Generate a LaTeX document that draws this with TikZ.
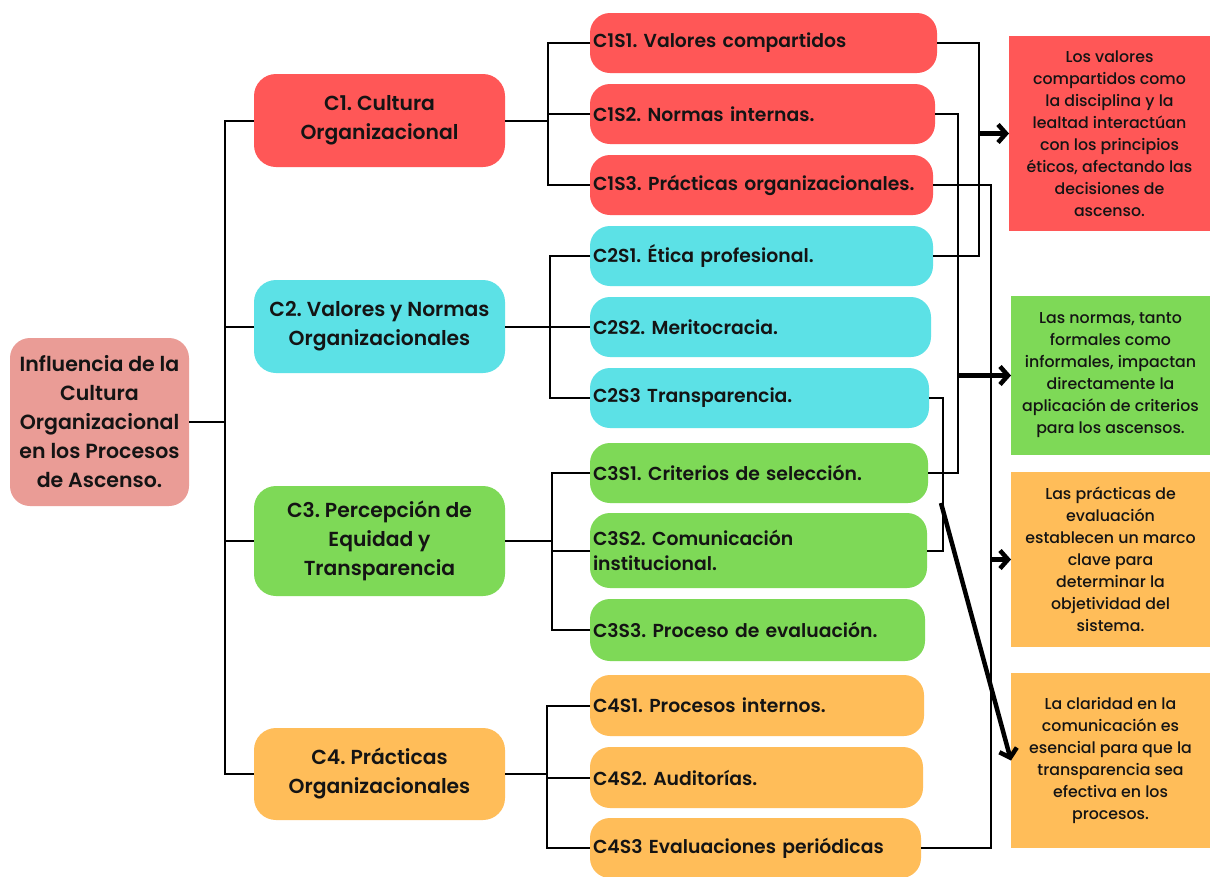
\documentclass[tikz,border=0pt]{standalone}
\usepackage{fontspec}
\setmainfont{Poppins}[UprightFont={* Medium},BoldFont={* SemiBold}]
\newfontfamily\regfont{Poppins}[UprightFont={* Medium}]
\usetikzlibrary{arrows.meta,calc}
\definecolor{cred}{HTML}{FF5757}
\definecolor{ccyan}{HTML}{5CE1E6}
\definecolor{cgreen}{HTML}{7ED957}
\definecolor{corange}{HTML}{FFBD59}
\definecolor{cpink}{HTML}{EA9C96}
\definecolor{txt}{HTML}{141414}
\frenchspacing
\begin{document}
\begin{tikzpicture}[x=1pt,y=-1pt,
  conn/.style={line width=2pt, draw=black},
  bigarrow/.style={line width=4.5pt, draw=black, -{Straight Barb[length=8pt,width=18pt]}},
  rootbox/.style={rounded corners=20pt, inner sep=0pt, outer sep=0pt, align=center, anchor=north west, text=txt,
    font=\fontsize{20.5}{29}\selectfont\bfseries},
  catbox/.style={rounded corners=22pt, inner sep=0pt, outer sep=0pt, align=center, anchor=north west, text=txt,
    minimum width=251pt, font=\fontsize{20.3}{29}\selectfont\bfseries},
  subbox/.style={rounded corners=20pt, inner xsep=3pt, inner ysep=0pt, outer sep=0pt, align=left, anchor=north west, text=txt,
    font=\fontsize{18.8}{25}\selectfont\bfseries},
  notebox/.style={inner sep=0pt, outer sep=0pt, align=center, anchor=north west, text=txt, minimum width=200pt,
    font=\regfont\fontsize{15.8}{22}\selectfont},
]
\useasboundingbox (0,0) rectangle (1210,876);
\fill[white] (0,0) rectangle (1210,876);

% root
\node[rootbox, fill=cpink, minimum width=179pt, minimum height=168pt] (root) at (10,338)
  {Influencia de la\\Cultura\\Organizacional\\en los Procesos\\de Ascenso.};

% categories
\node[catbox, fill=cred, minimum height=93pt] (c1) at (254,74) {C1. Cultura\\Organizacional};
\node[catbox, fill=ccyan, minimum height=93pt] (c2) at (254,280) {C2. Valores y Normas\\Organizacionales};
\node[catbox, fill=cgreen, minimum height=110pt] (c3) at (254,486) {C3. Percepción de\\Equidad y\\Transparencia};
\node[catbox, fill=corange, minimum height=92pt] (c4) at (254,728) {C4. Prácticas\\Organizacionales};

% sub nodes
\node[subbox, fill=cred, text width=341pt, minimum height=60pt] (c1s1) at (590,13) {C1S1. Valores compartidos};
\node[subbox, fill=cred, text width=339pt, minimum height=60pt] (c1s2) at (590,84) {C1S2. Normas internas.};
\node[subbox, fill=cred, text width=337pt, minimum height=60pt] (c1s3) at (590,155) {C1S3. Prácticas organizacionales.};
\node[subbox, fill=ccyan, text width=337pt, minimum height=60pt] (c2s1) at (590,226) {C2S1. Ética profesional.};
\node[subbox, fill=ccyan, text width=335pt, minimum height=60pt] (c2s2) at (590,297) {C2S2. Meritocracia.};
\node[subbox, fill=ccyan, text width=333pt, minimum height=60pt] (c2s3) at (590,368) {C2S3 Transparencia.};
\node[subbox, fill=cgreen, text width=332pt, minimum height=60pt] (c3s1) at (590,443) {C3S1. Criterios de selección.};
\node[subbox, fill=cgreen, text width=331pt, minimum height=75pt] (c3s2) at (590,513) {C3S2. Comunicación\\institucional.};
\node[subbox, fill=cgreen, text width=329pt, minimum height=62pt] (c3s3) at (590,599) {C3S3. Proceso de evaluación.};
\node[subbox, fill=corange, text width=328pt, minimum height=61pt] (c4s1) at (590,675) {C4S1. Procesos internos.};
\node[subbox, fill=corange, text width=327pt, minimum height=61pt] (c4s2) at (590,747) {C4S2. Auditorías.};
\node[subbox, fill=corange, text width=325pt, minimum height=60pt] (c4s3) at (590,818) {C4S3 Evaluaciones periódicas};

% note boxes
\node[notebox, fill=cred, minimum width=201pt, minimum height=195pt] (b1) at (1009,36)
  {Los valores\\compartidos como\\la disciplina y la\\lealtad interactúan\\con los principios\\éticos, afectando las\\decisiones de\\ascenso.};
\node[notebox, fill=cgreen, minimum width=199pt, minimum height=159pt] (b2) at (1011,296)
  {Las normas, tanto\\formales como\\informales, impactan\\directamente la\\aplicación de criterios\\para los ascensos.};
\node[notebox, fill=corange, minimum width=199pt, minimum height=175pt] (b3) at (1011,472)
  {Las prácticas de\\evaluación\\establecen un marco\\clave para\\determinar la\\objetividad del\\sistema.};
\node[notebox, fill=corange, minimum width=199pt, minimum height=175pt] (b4) at (1011,673)
  {La claridad en la\\comunicación es\\esencial para que la\\transparencia sea\\efectiva en los\\procesos.};

% trunk
\coordinate (tk) at (225,0);
\draw[conn] (root.east) -- (root.east -| tk);
\draw[conn] (c1.west) -- (c1.west -| tk) -- (c4.west -| tk) -- (c4.west);
\draw[conn] (c2.west) -- (c2.west -| tk);
\draw[conn] (c3.west) -- (c3.west -| tk);

% group buses
\coordinate (g1) at (548,0);
\draw[conn] (c1.east) -- (c1.east -| g1);
\draw[conn] (c1s1.west) -- (c1s1.west -| g1) -- (c1s3.west -| g1) -- (c1s3.west);
\draw[conn] (c1s2.west) -- (c1s2.west -| g1);
\coordinate (g2) at (550,0);
\draw[conn] (c2.east) -- (c2.east -| g2);
\draw[conn] (c2s1.west) -- (c2s1.west -| g2) -- (c2s3.west -| g2) -- (c2s3.west);
\draw[conn] (c2s2.west) -- (c2s2.west -| g2);
\coordinate (g3) at (552,0);
\draw[conn] (c3.east) -- (c3.east -| g3);
\draw[conn] (c3s1.west) -- (c3s1.west -| g3) -- (c3s3.west -| g3) -- (c3s3.west);
\draw[conn] (c3s2.west) -- (c3s2.west -| g3);
\coordinate (g4) at (547,0);
\draw[conn] (c4.east) -- (c4.east -| g4);
\draw[conn] (c4s1.west) -- (c4s1.west -| g4) -- (c4s3.west -| g4) -- (c4s3.west);
\draw[conn] (c4s2.west) -- (c4s2.west -| g4);

% right side links
\coordinate (r1) at (979,0);
\draw[conn] (c1s1.east) -- (c1s1.east -| r1) -- (c2s1.east -| r1) -- (c2s1.east);
\draw[bigarrow] (r1 |- b1.west) -- (b1.west);
\coordinate (r2) at (958,0);
\draw[conn] (c1s2.east) -- (c1s2.east -| r2) -- (c3s1.east -| r2) -- (c3s1.east);
\draw[bigarrow] (r2 |- b2.west) -- (b2.west);
\coordinate (r3) at (991,0);
\draw[conn] (c1s3.east) -- (c1s3.east -| r3) -- (c4s3.east -| r3) -- (c4s3.east);
\draw[bigarrow] (r3 |- b3.west) -- (b3.west);
\coordinate (r4) at (943,0);
\draw[conn] (c2s3.east) -- (c2s3.east -| r4) -- (c3s2.east -| r4) -- (c3s2.east);
\coordinate (dstart) at (941,503);
\draw[bigarrow] (dstart) -- (b4.west);
\end{tikzpicture}
\end{document}
